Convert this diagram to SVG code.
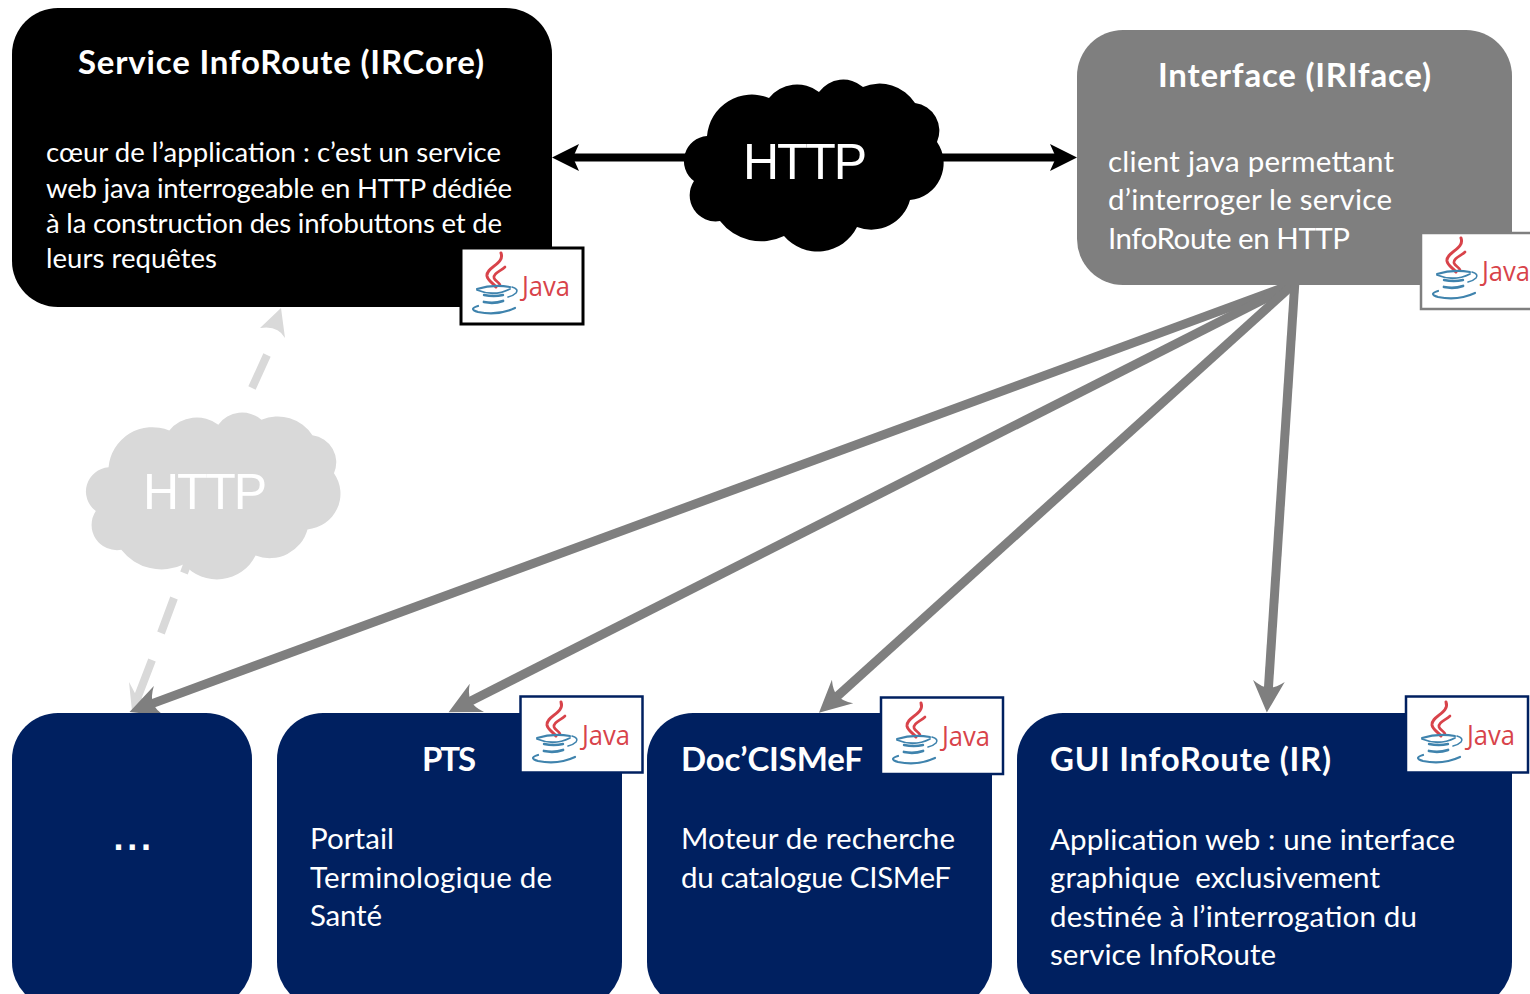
<svg xmlns="http://www.w3.org/2000/svg" xmlns:xlink="http://www.w3.org/1999/xlink" width="1530" height="994" viewBox="0 0 1530 994">
<style>
text{font-family:"Lato","Carlito","Open Sans",sans-serif;fill:#fff}
.b{font-size:27.5px}
.g{font-size:29.5px}
.t{font-weight:700;font-size:33px}
.d{font-family:"Liberation Sans",Arial,sans-serif;font-weight:700;font-size:36px}
.h{font-family:"Liberation Sans",Arial,sans-serif;font-size:50px}
.jt{font-family:"Open Sans","Liberation Sans",sans-serif;font-size:27px;fill:#d8434a}
.gl{stroke:#7f7f7f;stroke-width:9;fill:none;marker-end:url(#gh)}
.bl{stroke:#000;stroke-width:8;fill:none}
.ds{stroke:#d9d9d9;stroke-width:8;fill:none}
.nv{fill:#002060}
</style>
<defs>
<marker id="gh" markerUnits="userSpaceOnUse" markerWidth="34" markerHeight="34" refX="8" refY="15" orient="auto" viewBox="0 0 30 30"><path d="M28 15 L0 1 Q6 9 6 15 Q6 21 0 29 Z" fill="#7f7f7f"/></marker>
<path id="cloud" d="M707 136A45 45 0 0 1 769 98A36 36 0 0 1 819 92A30 30 0 0 1 863 87A42 42 0 0 1 915 103A28 28 0 0 1 937 142A37 37 0 0 1 910 200A40 40 0 0 1 857 227A44 44 0 0 1 784 236A52 52 0 0 1 720 221A26 26 0 0 1 694 181A25 25 0 0 1 707 136Z"/>
<g id="java">
<g fill="none" stroke="#d8434a" stroke-linecap="round">
<path d="M41 6C45 17 26 20 27 29C28 34 33 36 36 40" stroke-width="3"/>
<path d="M45 20C41 24 33 26 34 31C35 34 39 35 40 38" stroke-width="2.600"/>
</g>
<g fill="none" stroke="#3f83ad" stroke-linecap="round">
<path d="M17 42Q33 37 50 40" stroke-width="2"/>
<path d="M17 43Q34 50 50 42" stroke-width="1.800"/>
<path d="M52 40Q59 42 56 46Q53 49 48 50" stroke-width="1.600"/>
<path d="M24 48Q34 50 43 48" stroke-width="2.400"/>
<path d="M24 55Q34 57 43 54" stroke-width="2.800"/>
<path d="M18 59Q8 62 18 65Q38 69 55 61" stroke-width="2.200"/>
</g>
<text class="jt" x="62" y="49" textLength="48" lengthAdjust="spacingAndGlyphs">Java</text>
</g>
</defs>
<rect width="1530" height="994" fill="#fff"/>

<g id="connectors">
<path class="ds" d="M267 355L252 388M187 565L184 573M174 598L161 633M152 660L137 699"/>
<path d="M281 308L285 338Q278 325 260 328Z" fill="#d9d9d9"/>
<path d="M132 711L129 682L137 697L147 700Z" fill="#d9d9d9"/>
<path class="bl" d="M572 157.500H690"/>
<path d="M552 157.500L579 144L573 157.500L579 171Z"/>
<path class="bl" d="M940 157.500H1058"/>
<path d="M1077 157.500L1050 144L1056 157.500L1050 171Z"/>
<path class="gl" d="M1296 283L150.800 704.100"/>
<path class="gl" d="M1297 282.500L468.800 702"/>
<path class="gl" d="M1297 281L835.800 697.600"/>
<path class="gl" d="M1295 280L1268.300 690"/>
</g>

<g id="core">
<rect x="12" y="8" width="540" height="299" rx="46" fill="#000"/>
<text class="t" x="78" y="74" textLength="406">Service InfoRoute (IRCore)</text>
<text class="b" x="46" y="162" textLength="455">cœur de l’application : c’est un service</text>
<text class="b" x="46" y="198" textLength="466">web java interrogeable en HTTP dédiée</text>
<text class="b" x="46" y="233" textLength="456">à la construction des infobuttons et de</text>
<text class="b" x="46" y="268" textLength="171">leurs requêtes</text>
<rect x="461" y="248" width="122" height="76" fill="#fff" stroke="#000" stroke-width="3"/>
<use href="#java" x="460" y="247"/>
</g>

<g id="iface">
<rect x="1077" y="30" width="435" height="255" rx="46" fill="#7f7f7f"/>
<text class="t" x="1158" y="87" textLength="273">Interface (IRIface)</text>
<text class="g" x="1108" y="172" textLength="286">client java permettant</text>
<text class="g" x="1108" y="210" textLength="284">d’interroger le service</text>
<text class="g" x="1108" y="249" textLength="242">InfoRoute en HTTP</text>
<rect x="1421" y="233" width="122" height="76" fill="#fff" stroke="#7f7f7f" stroke-width="2.500"/>
<use href="#java" x="1420" y="232"/>
</g>

<g id="cloud-black">
<use href="#cloud" fill="#000"/>
<text class="h" x="743" y="179" textLength="124">HTTP</text>
</g>

<g id="cloud-grey">
<use href="#cloud" fill="#d9d9d9" transform="translate(-584.300 335.400) scale(.98 .97)"/>
<text class="h" x="143" y="509" textLength="124">HTTP</text>
</g>

<g id="other">
<rect class="nv" x="12" y="713" width="240" height="295" rx="46"/>
<text class="d" x="113.500" y="850" textLength="37.500">...</text>
</g>

<g id="pts">
<rect class="nv" x="277" y="713" width="345" height="295" rx="46"/>
<text class="t" x="422" y="771" textLength="54">PTS</text>
<text class="g" x="310" y="849" textLength="84">Portail</text>
<text class="g" x="310" y="888" textLength="242">Terminologique de</text>
<text class="g" x="310" y="926" textLength="72">Santé</text>
<rect x="520.500" y="696.500" width="122" height="76" fill="#fff" stroke="#002060" stroke-width="2.500"/>
<use href="#java" x="520" y="696"/>
</g>

<g id="doc">
<rect class="nv" x="647" y="713" width="345" height="295" rx="46"/>
<text class="t" x="681" y="771" textLength="182">Doc’CISMeF</text>
<text class="g" x="681" y="849" textLength="274">Moteur de recherche</text>
<text class="g" x="681" y="888" textLength="270">du catalogue CISMeF</text>
<rect x="881" y="697.500" width="122" height="76.500" fill="#fff" stroke="#002060" stroke-width="2.500"/>
<use href="#java" x="880" y="697"/>
</g>

<g id="gui">
<rect class="nv" x="1017" y="713" width="495" height="295" rx="46"/>
<text class="t" x="1050" y="771" textLength="281">GUI InfoRoute (IR)</text>
<text class="g" x="1050" y="850" textLength="405">Application web : une interface</text>
<text class="g" x="1050" y="888" textLength="330" xml:space="preserve">graphique  exclusivement</text>
<text class="g" x="1050" y="927" textLength="367">destinée à l’interrogation du</text>
<text class="g" x="1050" y="965" textLength="226">service InfoRoute</text>
<rect x="1406" y="696.500" width="122" height="76" fill="#fff" stroke="#002060" stroke-width="2.500"/>
<use href="#java" x="1405" y="696"/>
</g>
</svg>
